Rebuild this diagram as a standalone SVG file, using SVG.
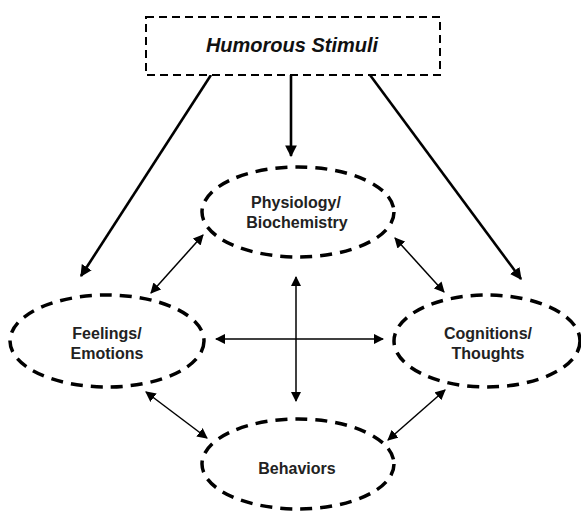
<svg xmlns="http://www.w3.org/2000/svg" width="581" height="511" viewBox="0 0 581 511">
<style>
.node{fill:#fff;stroke:#000;stroke-width:3.5;stroke-dasharray:12 8}
.box{fill:#fff;stroke:#000;stroke-width:2;stroke-dasharray:8 5}
.lbl{font-family:"Liberation Sans",Arial,sans-serif;font-weight:bold;font-size:16px;fill:#222;text-anchor:middle}
.top{font-family:"Liberation Sans",Arial,sans-serif;font-weight:bold;font-style:italic;font-size:20px;fill:#111;text-anchor:middle}
.thick{stroke:#000;stroke-width:2.6;fill:none;marker-end:url(#ah)}
.thin{stroke:#000;stroke-width:1.5;fill:none;marker-end:url(#ah2);marker-start:url(#ah2s)}
</style>
<defs>
<marker id="ah" viewBox="0 0 10 10" refX="9" refY="5" markerWidth="4.5" markerHeight="4.5" orient="auto" markerUnits="strokeWidth"><path d="M0,0 L10,5 L0,10 z" fill="#000"/></marker>
<marker id="ah2" viewBox="0 0 10 10" refX="9" refY="5" markerWidth="7" markerHeight="7" orient="auto" markerUnits="strokeWidth"><path d="M0,0 L10,5 L0,10 z" fill="#000"/></marker>
<marker id="ah2s" viewBox="0 0 10 10" refX="1" refY="5" markerWidth="7" markerHeight="7" orient="auto" markerUnits="strokeWidth"><path d="M10,0 L0,5 L10,10 z" fill="#000"/></marker>
</defs>
<rect width="581" height="511" fill="#fff"/>
<g id="connectors">
<line class="thick" x1="211" y1="75" x2="81" y2="276"/>
<line class="thick" x1="291" y1="75" x2="291" y2="156"/>
<line class="thick" x1="370" y1="75" x2="521" y2="279"/>
<line class="thin" x1="151" y1="293" x2="203" y2="235"/>
<line class="thin" x1="395" y1="238" x2="444" y2="292"/>
<line class="thin" x1="146" y1="392" x2="207" y2="438"/>
<line class="thin" x1="445" y1="390" x2="388" y2="440"/>
<line class="thin" x1="216" y1="339" x2="383" y2="339"/>
<line class="thin" x1="296" y1="277" x2="296" y2="401"/>
</g>
<g id="humorous">
<rect class="box" x="146" y="17" width="294" height="58"/>
<text class="top" x="292" y="52">Humorous Stimuli</text>
</g>
<g id="physiology">
<ellipse class="node" cx="298" cy="212" rx="96" ry="45"/>
<text class="lbl" x="296" y="208">Physiology/</text>
<text class="lbl" x="297" y="228">Biochemistry</text>
</g>
<g id="feelings">
<ellipse class="node" cx="107" cy="341" rx="97" ry="46"/>
<text class="lbl" x="107" y="339">Feelings/</text>
<text class="lbl" x="107" y="359">Emotions</text>
</g>
<g id="cognitions">
<ellipse class="node" cx="487" cy="341" rx="93" ry="46"/>
<text class="lbl" x="488" y="339">Cognitions/</text>
<text class="lbl" x="488" y="359">Thoughts</text>
</g>
<g id="behaviors">
<ellipse class="node" cx="298" cy="464" rx="96" ry="45"/>
<text class="lbl" x="297" y="474">Behaviors</text>
</g>
</svg>
